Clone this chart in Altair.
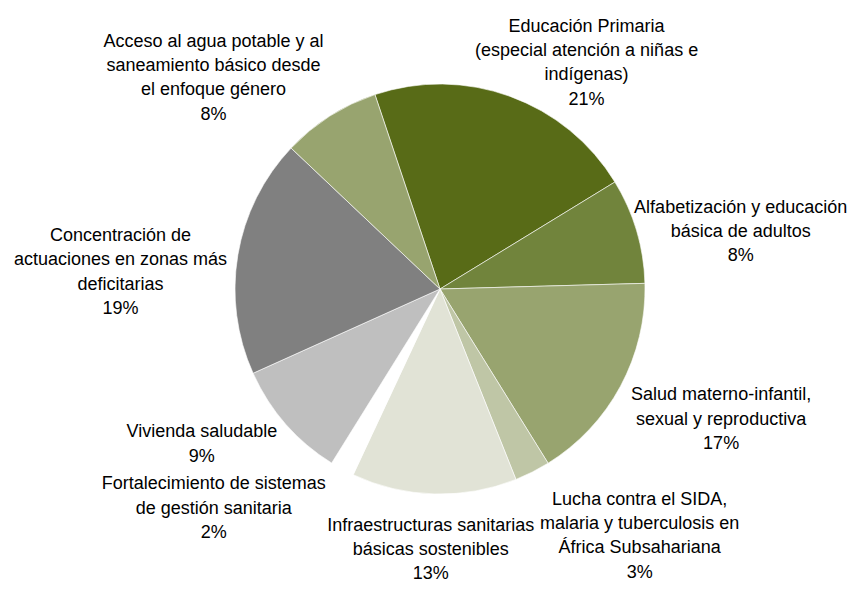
import math
import altair as alt
import pandas as pd

# ---- data ----
categories = [
    "Educación Primaria",
    "Alfabetización",
    "Salud materno-infantil",
    "Lucha contra el SIDA",
    "Infraestructuras sanitarias",
    "Fortalecimiento",
    "Vivienda saludable",
    "Concentración",
    "Acceso al agua",
]
values = [21.4, 8.3, 16.6, 2.8, 13.0, 1.9, 9.4, 18.8, 7.8]
label_lines = [
    "Educación Primaria\n(especial atención a niñas e\nindígenas)",
    "Alfabetización y educación\nbásica de adultos",
    "Salud materno-infantil,\nsexual y reproductiva",
    "Lucha contra el SIDA,\nmalaria y tuberculosis en\nÁfrica Subsahariana",
    "Infraestructuras sanitarias\nbásicas sostenibles",
    "Fortalecimiento de sistemas\nde gestión sanitaria",
    "Vivienda saludable",
    "Concentración de\nactuaciones en zonas más\ndeficitarias",
    "Acceso al agua potable y al\nsaneamiento básico desde\nel enfoque género",
]
colors = ["#586B17", "#71843C", "#98A46F", "#BFC6A6", "#E1E3D6",
          "#FFFFFF", "#BFBFBF", "#808080", "#98A46F"]

total = sum(values)
labels = [f"{t}\n{round(v / total * 100)}%" for t, v in zip(label_lines, values)]
df = pd.DataFrame({
    "idx": list(range(len(categories))),
    "category": categories,
    "value": values,
    "label": labels,
})

# ---- layout ----
W, H = 841, 574
CX, CY = 432, 281
R = 205
start = math.radians(-18.5)
theta_scale = alt.Scale(domain=[0, total], range=[start, start + 2 * math.pi])
LABEL_R = 250
LH = 24.3
# per-label nudges (pixels) to mimic the best-fit label placement
nudges = [(61, 9), (61, 14), (61, 12), (87, 24), (-2, 11),
          (-107, 0), (-50, -9), (-73, 25), (-92, 0)]

base = alt.Chart(df)

arcs = base.mark_arc(outerRadius=R, stroke="white", strokeWidth=0.6).encode(
    theta=alt.Theta("value:Q", stack=True, scale=theta_scale),
    order=alt.Order("idx:Q", sort="ascending"),
    color=alt.Color("category:N", scale=alt.Scale(domain=categories, range=colors), legend=None),
    x=alt.value(CX),
    y=alt.value(CY),
)

lab = base.transform_window(
    cum="sum(value)", sort=[alt.SortField("idx", order="ascending")], frame=[None, 0]
).transform_calculate(mid="datum.cum - datum.value / 2")

layers = [arcs]
for i, (ddx, ddy) in enumerate(nudges):
    nlines = labels[i].count("\n") + 1
    layers.append(
        lab.transform_filter(alt.datum.idx == i).mark_text(
            radius=LABEL_R, dx=ddx, dy=ddy - (nlines - 1) * LH / 2, lineBreak="\n",
            font="Liberation Sans", fontSize=18, lineHeight=LH,
            align="center", baseline="middle", color="#000000",
        ).encode(
            theta=alt.Theta("mid:Q", scale=theta_scale),
            text="label:N",
            x=alt.value(CX),
            y=alt.value(CY),
        )
    )

chart = alt.layer(*layers).properties(
    width=W, height=H, padding=0, autosize=alt.AutoSizeParams(type="none")
).configure_view(stroke=None)

chart.save("out.html", embed_options={"renderer": "svg", "actions": False})
